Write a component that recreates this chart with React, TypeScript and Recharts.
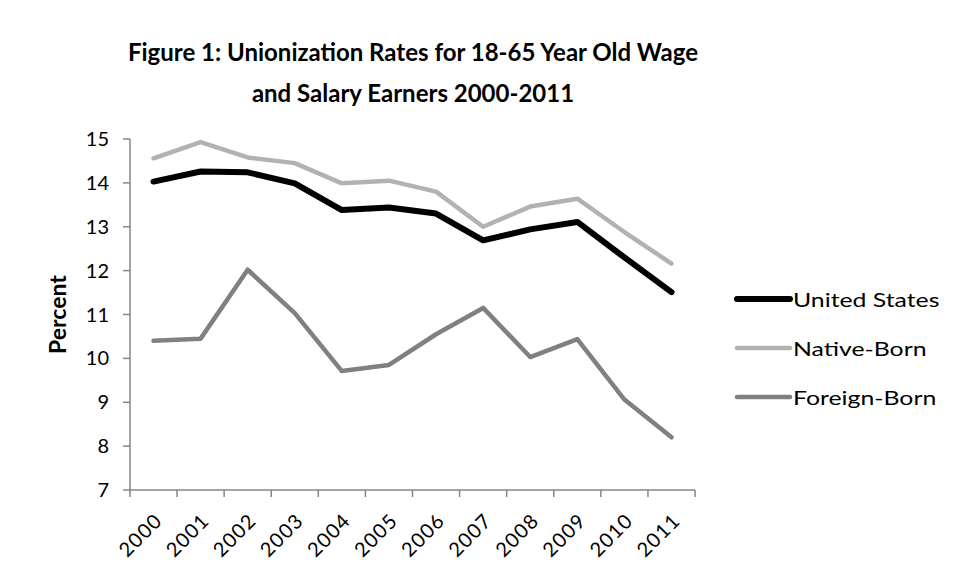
import React from 'react'
import { LineChart, Line, XAxis, YAxis } from 'recharts'

const years = ['2000', '2001', '2002', '2003', '2004', '2005', '2006', '2007', '2008', '2009', '2010', '2011']
const unitedStates = [14.03, 14.26, 14.24, 13.99, 13.38, 13.44, 13.30, 12.69, 12.94, 13.11, 12.30, 11.51]
const nativeBorn = [14.56, 14.93, 14.58, 14.45, 13.99, 14.05, 13.80, 13.00, 13.46, 13.64, 12.88, 12.16]
const foreignBorn = [10.40, 10.45, 12.02, 11.03, 9.71, 9.85, 10.55, 11.15, 10.03, 10.44, 9.06, 8.20]
const yTicks = [7, 8, 9, 10, 11, 12, 13, 14, 15]

const series = [
  { key: 'us', name: 'United States', color: '#000000', width: 6 },
  { key: 'native', name: 'Native-Born', color: '#b2b2b2', width: 4.5 },
  { key: 'foreign', name: 'Foreign-Born', color: '#808080', width: 4.5 },
]

const data = years.map((year, i) => ({
  year,
  us: unitedStates[i],
  native: nativeBorn[i],
  foreign: foreignBorn[i],
}))

const FONT = 'Lato, "Open Sans", sans-serif'
const AXIS = '#868686'

// ticks sit between categories, like the spreadsheet original
function XTick({ x, y, payload, index, visibleTicksCount }: any) {
  const half = 47.1 / 2
  const isLast = index === (visibleTicksCount ?? years.length) - 1
  const ax = x + 10
  const ay = y + 24
  return (
    <g>
      <line x1={x - half} x2={x - half} y1={y - 8} y2={y - 1} stroke={AXIS} strokeWidth={1.5} />
      {isLast && <line x1={x + half} x2={x + half} y1={y - 8} y2={y - 1} stroke={AXIS} strokeWidth={1.5} />}
      <text x={ax} y={ay} textAnchor="end" fontSize={20} letterSpacing={1.2} fontFamily={FONT} fill="#000"
        transform={`rotate(-45 ${ax} ${ay})`}>
        {payload.value}
      </text>
    </g>
  )
}

export default function App() {
  return (
    <div style={{ position: 'relative', width: 956, height: 577, margin: -8, background: '#fff', overflow: 'hidden' }}>
      <div style={{ position: 'absolute', left: 0, top: 0 }}>
        <LineChart width={956} height={577} data={data} margin={{ top: 139, right: 261, bottom: 7, left: 70 }}>
          {/* outer frame, only its top and left edges fall inside the picture */}
          <path d="M6.5 580 V7 H960" fill="none" stroke="#8c8c8c" strokeWidth={2} />
          <XAxis dataKey="year" stroke={AXIS} strokeWidth={1.5} tickLine={false} height={80}
            padding={{ left: 23.5, right: 23.5 }} tick={<XTick />} interval={0} />
          <YAxis domain={[7, 15]} ticks={yTicks} width={60} stroke={AXIS} strokeWidth={1.5}
            tickSize={7} tickMargin={14} interval={0} tick={{ fill: '#000', fontSize: 20, fontFamily: FONT }}
            label={{ value: 'Percent', angle: -90, position: 'insideLeft', offset: -12,
              style: { fontWeight: 700, fontSize: 23, fontFamily: FONT, fill: '#000', textAnchor: 'middle' } }} />
          {series.map(s => (
            <Line key={s.key} dataKey={s.key} name={s.name} stroke={s.color} strokeWidth={s.width} dot={false}
              strokeLinecap="round" strokeLinejoin="round" isAnimationActive={false} />
          ))}
        </LineChart>
      </div>
      <div style={{
        position: 'absolute', left: 0, top: 31, width: 826, textAlign: 'center',
        fontFamily: FONT, fontWeight: 700, fontSize: 24, lineHeight: '41px', color: '#000',
      }}>
        Figure 1: Unionization Rates for 18-65 Year Old Wage<br />and Salary Earners 2000-2011
      </div>
      <div style={{ position: 'absolute', left: 733, top: 274, fontFamily: FONT, fontSize: 20, color: '#000' }}>
        {series.map(s => (
          <div key={s.key} style={{ display: 'flex', alignItems: 'center', height: 49 }}>
            <svg width={60} height={10}>
              <line x1={4} x2={57} y1={5} y2={5} stroke={s.color} strokeWidth={s.width} strokeLinecap="round" />
            </svg>
            <span style={{ display: 'inline-block', transform: 'scaleX(1.24)', transformOrigin: 'left center', whiteSpace: 'nowrap' }}>
              {s.name}
            </span>
          </div>
        ))}
      </div>
    </div>
  )
}
